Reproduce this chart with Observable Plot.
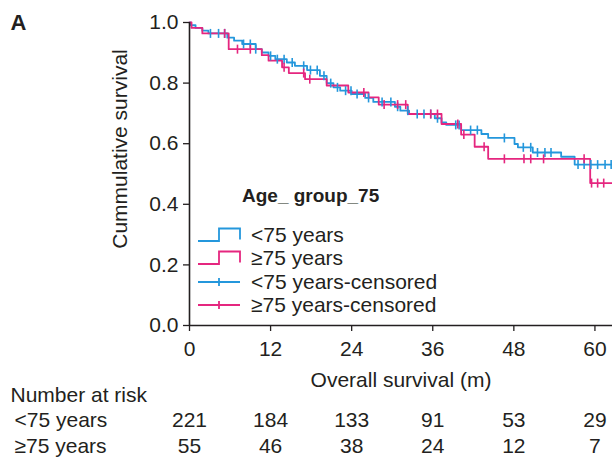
<!DOCTYPE html>
<html>
<head>
<meta charset="utf-8">
<script src="https://cdn.jsdelivr.net/npm/d3@7"></script>
<script src="https://cdn.jsdelivr.net/npm/@observablehq/plot@0.6"></script>
<style>
  body { margin: 0; background: #fff; }
  #wrap { position: relative; width: 612px; height: 457px; font-family: "Liberation Sans", Arial, sans-serif; color: #231f20; }
  #legend { position: absolute; left: 198px; top: 186px; }
  #legend .title { font-weight: bold; font-size: 19px; line-height: 20px; padding-left: 44px; height: 20px; margin-bottom: 17px; }
  #legend .row { display: flex; align-items: center; height: 23.5px; font-size: 21px; }
  #legend .row svg { flex: none; margin-right: 9px; }
</style>
</head>
<body>
<div id="wrap"></div>
<script>
// ---- data ----
const groups = ["<75 years", "≥75 years"];
const colors = ["#2497dc", "#e5267f"];
const legendTitle = "Age_ group_75";
const legendLabels = ["<75 years", "≥75 years", "<75 years-censored", "≥75 years-censored"];

const blueTime = [0, 0.2, 0.9, 1.9, 2.8, 5.6, 6.6, 7.8, 9.8, 10.7, 11.7, 12.7, 14.4, 15.6, 17.4, 19.3, 20.3, 21.3, 22.3, 24.0, 26.0, 27.2, 30.4, 31.2, 32.5, 36.3, 37.3, 38.0, 40.2, 43.2, 44.2, 48.1, 48.6, 50.8, 55.0, 57.0];
const blueSurv = [1.0, 0.991, 0.982, 0.973, 0.964, 0.950, 0.940, 0.929, 0.912, 0.901, 0.890, 0.879, 0.868, 0.857, 0.843, 0.824, 0.800, 0.786, 0.775, 0.764, 0.751, 0.738, 0.722, 0.709, 0.698, 0.684, 0.670, 0.662, 0.645, 0.632, 0.619, 0.599, 0.588, 0.571, 0.557, 0.531];

const pinkTime = [0, 0.3, 1.9, 5.8, 10.7, 11.7, 13.7, 14.7, 17.1, 20.3, 23.5, 26.5, 28.0, 32.3, 37.3, 40.2, 42.2, 44.2, 59.3];
const pinkSurv = [1.0, 0.982, 0.964, 0.912, 0.892, 0.874, 0.852, 0.833, 0.813, 0.792, 0.769, 0.753, 0.729, 0.698, 0.665, 0.630, 0.590, 0.550, 0.470];

const blueCensor = [3.1, 4.3, 5.2, 8.0, 9.0, 9.8, 12.0, 13.0, 14.0, 15.2, 16.9, 17.9, 18.9, 19.9, 20.9, 21.9, 23.1, 23.9, 24.8, 26.5, 28.5, 29.8, 30.8, 32.3, 33.7, 34.7, 35.7, 36.7, 39.4, 39.9, 41.6, 42.6, 46.6, 49.4, 50.5, 51.5, 52.6, 53.5, 57.5, 58.4, 59.4, 60.4, 61.5, 62.4];
const pinkCensor = [5.2, 7.1, 9.0, 14.0, 16.9, 17.8, 25.8, 28.8, 30.8, 32.0, 35.7, 36.7, 39.7, 40.6, 43.6, 46.6, 49.5, 50.5, 52.4, 58.4, 59.5, 60.4, 61.3];

const riskTimes = [0, 12, 24, 36, 48, 60];
const riskBlue = [221, 184, 133, 91, 53, 29];
const riskPink = [55, 46, 38, 24, 12, 7];

const xTicks = [0, 12, 24, 36, 48, 60];
const yTicks = [0, 0.2, 0.4, 0.6, 0.8, 1.0];
const xMax = 62.6;

// ---- build tables ----
function stepRows(times, surv, group) {
  const rows = times.map((t, i) => ({t, s: surv[i], group}));
  rows.push({t: xMax, s: surv[surv.length - 1], group});
  return rows;
}
function survAt(times, surv, t) {
  let s = surv[0];
  for (let i = 0; i < times.length; i++) if (times[i] <= t) s = surv[i];
  return s;
}
const blueRows = stepRows(blueTime, blueSurv, groups[0]);
const pinkRows = stepRows(pinkTime, pinkSurv, groups[1]);
const blueCens = blueCensor.map(t => ({t, s: survAt(blueTime, blueSurv, t)}));
const pinkCens = pinkCensor.map(t => ({t, s: survAt(pinkTime, pinkSurv, t)}));

const vbar = {
  draw(ctx, size) {
    const r = Math.sqrt(size / Math.PI);
    ctx.moveTo(0, -r);
    ctx.lineTo(0, r);
  }
};

const FS = 21;
const chart = Plot.plot({
  width: 612,
  height: 457,
  marginLeft: 189,
  marginRight: 0,
  marginTop: 22,
  marginBottom: 132,
  style: {fontFamily: "Liberation Sans, Arial, sans-serif", fontSize: FS + "px", color: "#231f20", background: "white", overflow: "visible"},
  x: {domain: [0, xMax]},
  y: {domain: [0, 1]},
  marks: [
    Plot.line(blueRows, {x: "t", y: "s", curve: "step-after", stroke: colors[0], strokeWidth: 1.8}),
    Plot.line(pinkRows, {x: "t", y: "s", curve: "step-after", stroke: colors[1], strokeWidth: 1.8}),
    Plot.dot(blueCens, {x: "t", y: "s", symbol: vbar, r: 4.5, stroke: colors[0], strokeWidth: 1.6, fill: "none"}),
    Plot.dot(pinkCens, {x: "t", y: "s", symbol: vbar, r: 4.5, stroke: colors[1], strokeWidth: 1.6, fill: "none"}),
    Plot.axisY(yTicks, {tickSize: 6, tickPadding: 5, tickFormat: d => d.toFixed(1), fontSize: FS, label: null, strokeWidth: 1.3}),
    Plot.axisX(xTicks, {tickSize: 6, tickPadding: 10, fontSize: FS, label: null, strokeWidth: 1.3}),
    Plot.ruleX([0], {stroke: "#231f20", strokeWidth: 1.6}),
    Plot.ruleY([0], {stroke: "#231f20", strokeWidth: 1.6}),
    Plot.text(["Overall survival (m)"], {frameAnchor: "bottom", lineAnchor: "middle", dy: 55, fontSize: FS}),
    Plot.text(["Cummulative survival"], {frameAnchor: "left", textAnchor: "middle", lineAnchor: "middle", rotate: -90, dx: -69, dy: -25, fontSize: FS}),
    Plot.text(["A"], {frameAnchor: "top-left", textAnchor: "start", lineAnchor: "middle", dx: -179, dy: 0, fontSize: 22, fontWeight: "bold"}),
    Plot.text(["Number at risk"], {frameAnchor: "bottom-left", textAnchor: "start", lineAnchor: "middle", dx: -179, dy: 70, fontSize: FS}),
    Plot.text([groups[0]], {frameAnchor: "bottom-left", textAnchor: "start", lineAnchor: "middle", dx: -175, dy: 95, fontSize: FS}),
    Plot.text([groups[1]], {frameAnchor: "bottom-left", textAnchor: "start", lineAnchor: "middle", dx: -175, dy: 121, fontSize: FS}),
    Plot.text(riskTimes, {x: d => d, text: (d, i) => riskBlue[i], frameAnchor: "bottom", lineAnchor: "middle", dy: 95, fontSize: FS}),
    Plot.text(riskTimes, {x: d => d, text: (d, i) => riskPink[i], frameAnchor: "bottom", lineAnchor: "middle", dy: 121, fontSize: FS})
  ]
});

const wrap = document.getElementById("wrap");
wrap.appendChild(chart);

// ---- legend ----
const legend = document.createElement("div");
legend.id = "legend";
const title = document.createElement("div");
title.className = "title";
title.textContent = legendTitle;
legend.appendChild(title);
const ns = "http://www.w3.org/2000/svg";
legendLabels.forEach((lab, i) => {
  const row = document.createElement("div");
  row.className = "row";
  const svg = document.createElementNS(ns, "svg");
  svg.setAttribute("width", 44);
  svg.setAttribute("height", 16);
  const path = document.createElementNS(ns, "path");
  const col = colors[i % 2];
  if (i < 2) {
    path.setAttribute("d", "M0,14H21V1.5H42V12.5");
  } else {
    path.setAttribute("d", "M0,8H42M21,4V12");
  }
  path.setAttribute("fill", "none");
  path.setAttribute("stroke", col);
  path.setAttribute("stroke-width", 1.8);
  svg.appendChild(path);
  row.appendChild(svg);
  const span = document.createElement("span");
  span.textContent = lab;
  row.appendChild(span);
  legend.appendChild(row);
});
wrap.appendChild(legend);
</script>
</body>
</html>
